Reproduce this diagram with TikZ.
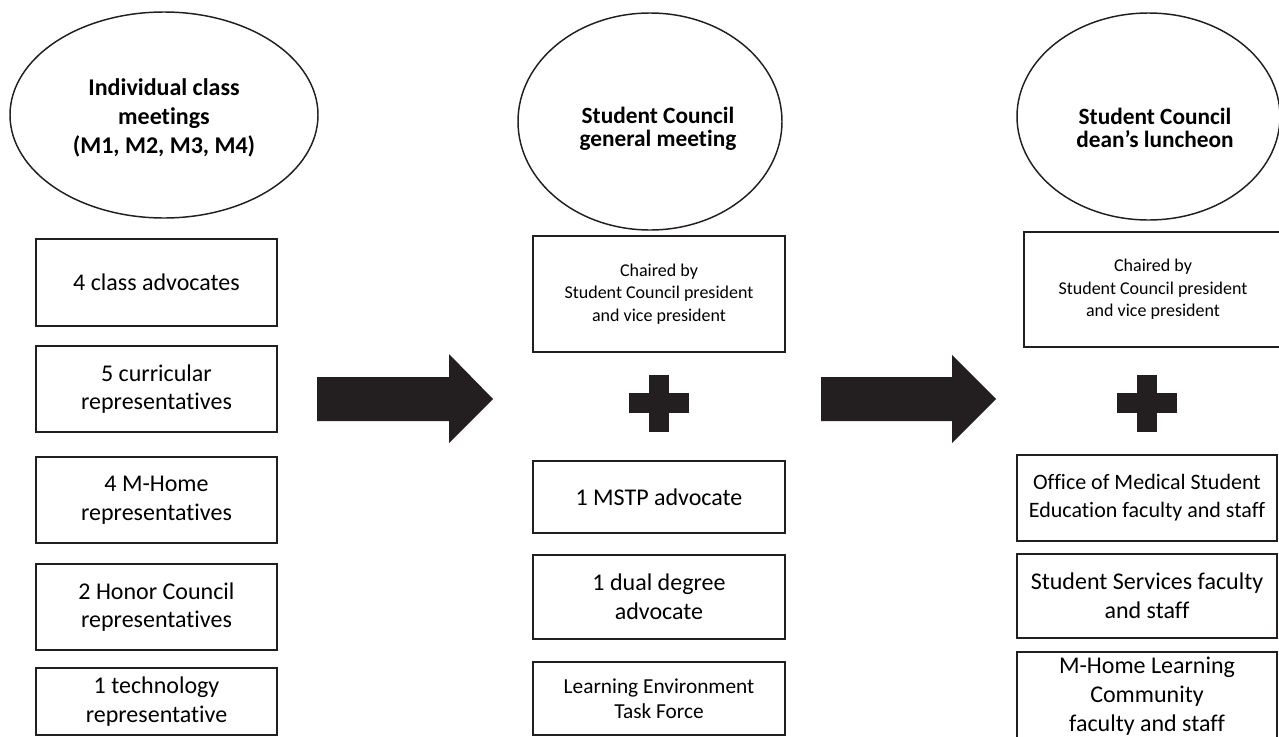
\documentclass[tikz,border=0pt]{standalone}
\usepackage{fontspec}
\setmainfont{Carlito}[RawFeature={-liga}]
\usetikzlibrary{shapes.geometric}
\definecolor{ink}{RGB}{35,31,32}
\begin{document}
\begin{tikzpicture}[x=0.75pt,y=-0.75pt,
  box/.style 2 args={draw=ink, line width=1.5pt, rectangle, minimum width=#1, minimum height=#2, inner sep=0pt, align=center, text=black, font=\fontsize{18}{21.5}\selectfont},
  ell/.style 2 args={draw=ink, line width=1.1pt, ellipse, minimum width=#1, minimum height=#2, inner sep=0pt},
  head/.style={align=center, text=black, inner sep=0pt},
  blk/.style={fill=ink}]
\useasboundingbox (0,0) rectangle (1279,736);
\clip (0,0) rectangle (1279,736);
\fill[white] (0,0) rectangle (1279,736);

% ---- ellipses ----
\node[ell={231pt}{154.5pt}] (e1) at (164,115) {};
\node[head, font=\bfseries\fontsize{18}{21.5}\selectfont] (t1) at (164,118) {Individual class\\meetings\\(M1, M2, M3, M4)};
\node[ell={198pt}{162.75pt}] (e2) at (650,121.5) {};
\node[head, font=\bfseries\fontsize{17.5}{17.5}\selectfont] (t2) at (658,129) {Student Council\\general meeting};
\node[ell={197.25pt}{155.25pt}] (e3) at (1148.5,116.5) {};
\node[head, font=\bfseries\fontsize{17.5}{17}\selectfont] (t3) at (1155,128) {Student Council\\dean’s luncheon};

% ---- left column ----
\node[box={180.75pt}{65.25pt}] (l1) at (156.5,282.5) {4 class advocates};
\node[box={180.75pt}{64.5pt}] (l2) at (156.5,389) {5 curricular\\representatives};
\node[box={180.75pt}{64.5pt}] (l3) at (156.5,500) {4 M-Home\\representatives};
\node[box={180.75pt}{64.5pt}] (l4) at (156.5,607) {2 Honor Council\\representatives};
\node[box={180.75pt}{50.25pt}] (l5) at (156.5,701.5) {1 technology\\representative};

% ---- middle column ----
\node[box={189pt}{87pt}, font=\fontsize{13.5}{16.8}\selectfont] (m1) at (659,294) {Chaired by\\Student Council president\\and vice president};
\node[box={189pt}{54pt}] (m2) at (659,497) {1 MSTP advocate};
\node[box={189pt}{63pt}] (m3) at (659,597) {1 dual degree\\advocate};
\node[box={189pt}{54.75pt}, font=\fontsize{16}{19}\selectfont] (m4) at (659,698.5) {Learning Environment\\Task Force};

% ---- right column ----
\node[box={193.5pt}{86.25pt}, font=\fontsize{13.5}{16.8}\selectfont] (r1) at (1153,289.5) {Chaired by\\Student Council president\\and vice president};
\node[box={195pt}{64.5pt}, font=\fontsize{16.5}{21}\selectfont] (r2) at (1147,498) {Office of Medical Student\\Education faculty and staff};
\node[box={195pt}{63pt}] (r3) at (1147,596) {Student Services faculty\\and staff};
\node[box={195pt}{66pt}, font=\fontsize{18}{21.8}\selectfont] (r4) at (1147,696) {M-Home Learning\\Community\\faculty and staff};

% ---- plus signs ----
\fill[blk] (649,375) rectangle (669,432);
\fill[blk] (629,393) rectangle (689,413);
\fill[blk] (1137,375) rectangle (1157,432);
\fill[blk] (1117,393) rectangle (1177,413);

% ---- block arrows ----
\fill[blk] (317,377) -- (449,377) -- (449,354) -- (493,399) -- (449,443) -- (449,421) -- (317,421) -- cycle;
\fill[blk] (821,377) -- (952,377) -- (952,355) -- (996,399) -- (952,443) -- (952,421) -- (821,421) -- cycle;
\end{tikzpicture}
\end{document}
